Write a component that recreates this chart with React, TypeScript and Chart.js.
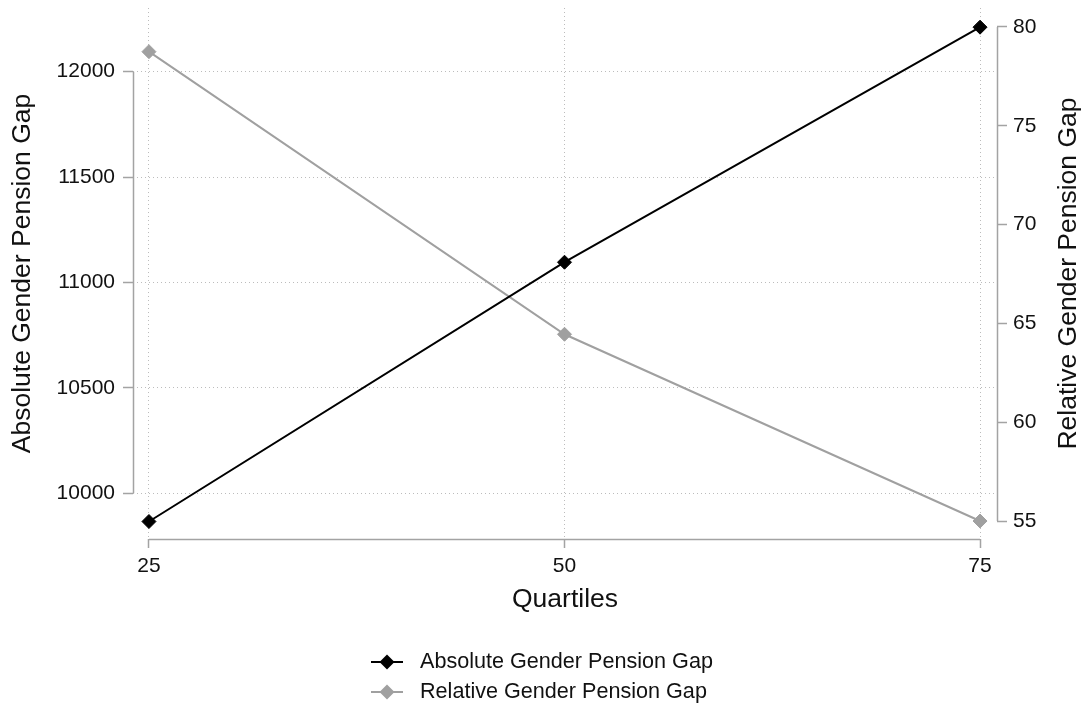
import React, { useEffect, useRef } from 'react';
import { Chart, registerables } from 'chart.js';

Chart.register(...registerables);

// ---- data ----
const quartiles = [25, 50, 75];
const absoluteGap = [9866, 11096, 12211];
const relativeGap = [78.75, 64.45, 55.0];
const xTicks = [25, 50, 75];
const leftTicks = [10000, 10500, 11000, 11500, 12000];
const rightTicks = [55, 60, 65, 70, 75, 80];
const seriesLabels = ['Absolute Gender Pension Gap', 'Relative Gender Pension Gap'];
const xTitle = 'Quartiles';
const leftTitle = 'Absolute Gender Pension Gap';
const rightTitle = 'Relative Gender Pension Gap';

// ---- style ----
const FONT = '"Liberation Sans", Arial, Helvetica, sans-serif';
const TEXT = '#111111';
const AXIS = '#a3a3a3';
const GRID = '#bcbcbc';
const BLACK = '#000000';
const GREY = '#a0a0a0';
const seriesColors = [BLACK, GREY];

const stataPlugin = {
  id: 'stataDecor',
  afterDraw(chart: any) {
    const ctx = chart.ctx;
    const { x, y, y1 } = chart.scales;
    const area = chart.chartArea;
    ctx.save();
    ctx.strokeStyle = AXIS;
    ctx.lineWidth = 1.5;
    // left spine
    ctx.beginPath();
    ctx.moveTo(area.left + 0.5, y.getPixelForValue(leftTicks[leftTicks.length - 1]));
    ctx.lineTo(area.left + 0.5, y.getPixelForValue(leftTicks[0]));
    ctx.stroke();
    // right spine
    ctx.beginPath();
    ctx.moveTo(area.right + 0.5, y1.getPixelForValue(rightTicks[rightTicks.length - 1]));
    ctx.lineTo(area.right + 0.5, y1.getPixelForValue(rightTicks[0]));
    ctx.stroke();
    // bottom spine
    ctx.beginPath();
    ctx.moveTo(x.getPixelForValue(xTicks[0]), area.bottom + 0.5);
    ctx.lineTo(x.getPixelForValue(xTicks[xTicks.length - 1]), area.bottom + 0.5);
    ctx.stroke();

    // right title, reading bottom-to-top
    ctx.fillStyle = TEXT;
    ctx.font = `26.5px ${FONT}`;
    ctx.textAlign = 'center';
    ctx.textBaseline = 'middle';
    ctx.translate(1069, (area.top + area.bottom) / 2);
    ctx.rotate(-Math.PI / 2);
    ctx.fillText(rightTitle, 0, 0);
    ctx.restore();

    // legend
    ctx.save();
    const rows = [662, 692];
    seriesLabels.forEach((label, i) => {
      const cy = rows[i];
      const color = seriesColors[i];
      ctx.strokeStyle = color;
      ctx.lineWidth = 2;
      ctx.beginPath();
      ctx.moveTo(371, cy);
      ctx.lineTo(403, cy);
      ctx.stroke();
      ctx.fillStyle = color;
      ctx.beginPath();
      const cx = 387;
      const r = 7.5;
      ctx.moveTo(cx - r, cy);
      ctx.lineTo(cx, cy - r);
      ctx.lineTo(cx + r, cy);
      ctx.lineTo(cx, cy + r);
      ctx.closePath();
      ctx.fill();
      ctx.fillStyle = TEXT;
      ctx.font = `21.6px ${FONT}`;
      ctx.textAlign = 'left';
      ctx.textBaseline = 'middle';
      ctx.fillText(label, 420, cy);
    });
    ctx.restore();
  },
};

function zeroPad(scale: any) {
  scale.paddingTop = 0;
  scale.paddingBottom = 0;
  scale.paddingLeft = 0;
  scale.paddingRight = 0;
}

export default function App() {
  const ref = useRef<HTMLCanvasElement | null>(null);

  useEffect(() => {
    if (!ref.current) return;
    Chart.defaults.font.family = FONT;
    Chart.defaults.color = TEXT;
    const chart = new Chart(ref.current, {
      type: 'line',
      data: {
        datasets: [
          {
            label: seriesLabels[0],
            data: quartiles.map((q, i) => ({ x: q, y: absoluteGap[i] })),
            yAxisID: 'y',
            borderColor: BLACK,
            backgroundColor: BLACK,
            borderWidth: 2,
            pointStyle: 'rectRot',
            pointRadius: 7,
            pointBorderWidth: 1,
            pointBackgroundColor: BLACK,
            pointBorderColor: BLACK,
            tension: 0,
          },
          {
            label: seriesLabels[1],
            data: quartiles.map((q, i) => ({ x: q, y: relativeGap[i] })),
            yAxisID: 'y1',
            borderColor: GREY,
            backgroundColor: GREY,
            borderWidth: 2,
            pointStyle: 'rectRot',
            pointRadius: 7,
            pointBorderWidth: 1,
            pointBackgroundColor: GREY,
            pointBorderColor: GREY,
            tension: 0,
          },
        ],
      },
      options: {
        animation: false,
        responsive: true,
        maintainAspectRatio: false,
        layout: { padding: { top: 5, left: 0, right: 0, bottom: 80 } },
        plugins: {
          legend: { display: false },
          tooltip: { enabled: false },
        },
        scales: {
          x: {
            type: 'linear',
            position: 'bottom',
            min: 24.04,
            max: 76.02,
            afterBuildTicks: (s: any) => { s.ticks = xTicks.map((v) => ({ value: v })); },
            afterFit: (s: any) => { s.height = 85; zeroPad(s); },
            ticks: {
              font: { size: 21 },
              color: TEXT,
              padding: 6,
              maxRotation: 0,
              callback: (v: any) => String(v),
            },
            grid: {
              color: GRID,
              lineWidth: 1,
              drawTicks: true,
              tickLength: 9,
              tickColor: AXIS,
              tickWidth: 1.5,
              tickBorderDash: [],
            },
            border: { display: false, dash: [1, 3] },
            title: {
              display: true,
              text: xTitle,
              font: { size: 26.5 },
              color: TEXT,
              padding: { top: 0, bottom: 8 },
            },
          },
          y: {
            type: 'linear',
            position: 'left',
            min: 9783,
            max: 12302,
            afterBuildTicks: (s: any) => { s.ticks = leftTicks.map((v) => ({ value: v })); },
            afterFit: (s: any) => { s.width = 133; zeroPad(s); },
            ticks: {
              font: { size: 21 },
              color: TEXT,
              padding: 8,
              callback: (v: any) => String(v),
            },
            grid: {
              color: GRID,
              lineWidth: 1,
              drawTicks: true,
              tickLength: 10,
              tickColor: AXIS,
              tickWidth: 1.5,
              tickBorderDash: [],
            },
            border: { display: false, dash: [1, 3] },
            title: {
              display: true,
              text: leftTitle,
              font: { size: 26.5 },
              color: TEXT,
              padding: { top: 7, bottom: 0 },
            },
          },
          y1: {
            type: 'linear',
            position: 'right',
            min: 54.09,
            max: 80.96,
            afterBuildTicks: (s: any) => { s.ticks = rightTicks.map((v) => ({ value: v })); },
            afterFit: (s: any) => { s.width = 89; zeroPad(s); },
            ticks: {
              font: { size: 21 },
              color: TEXT,
              padding: 6,
              callback: (v: any) => String(v),
            },
            grid: {
              drawOnChartArea: false,
              drawTicks: true,
              tickLength: 10,
              tickColor: AXIS,
              tickWidth: 1.5,
              tickBorderDash: [],
            },
            border: { display: false },
            title: { display: false },
          },
        },
      },
      plugins: [stataPlugin],
    } as any);
    return () => chart.destroy();
  }, []);

  return (
    <div style={{ position: 'absolute', left: 0, top: 0, width: 1086, height: 704 }}>
      <canvas ref={ref} />
    </div>
  );
}
